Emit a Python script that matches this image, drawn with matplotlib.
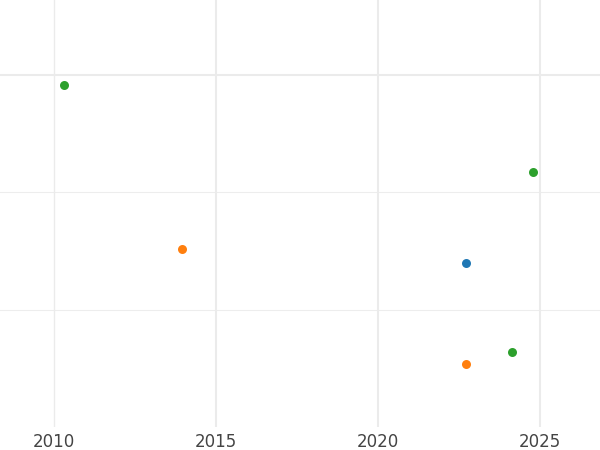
import matplotlib
matplotlib.use("Agg")
from matplotlib import pyplot as plt

# point data (x = year, y = unnamed value)
blue_x = [2022.72]
blue_y = [1.40]
orange_x = [2013.95, 2022.72]
orange_y = [1.52, 0.54]
green_x = [2010.31, 2024.78, 2024.14]
green_y = [2.915, 2.174, 0.643]

year_ticks = [2010, 2015, 2020, 2025]

fig = plt.figure(figsize=(6, 4.5), dpi=100)
ax = fig.add_axes([0, 0.051, 1, 0.949])

# grid
ax.axhline(3, color='#ebebeb', lw=1.5, zorder=0)
for y in [1, 2]:
    ax.axhline(y, color='#ededed', lw=0.8, zorder=0)
for x in year_ticks:
    ax.axvline(x, color='#ebebeb', lw=1.0 if x == 2010 else 1.5, zorder=0)

ax.scatter(blue_x, blue_y, s=42, color='#1f77b4', zorder=3, linewidths=0)
ax.scatter(orange_x, orange_y, s=42, color='#ff7f0e', zorder=3, linewidths=0)
ax.scatter(green_x, green_y, s=42, color='#2ca02c', zorder=3, linewidths=0)

ax.set_xlim(2008.33, 2026.85)
ax.set_ylim(0, 3.64)
ax.set_xticks(year_ticks)
ax.set_yticks([])
ax.tick_params(axis='x', length=0, pad=4, labelsize=12, labelcolor='#444444')
for s in ax.spines.values():
    s.set_visible(False)

fig.savefig('out.png')
